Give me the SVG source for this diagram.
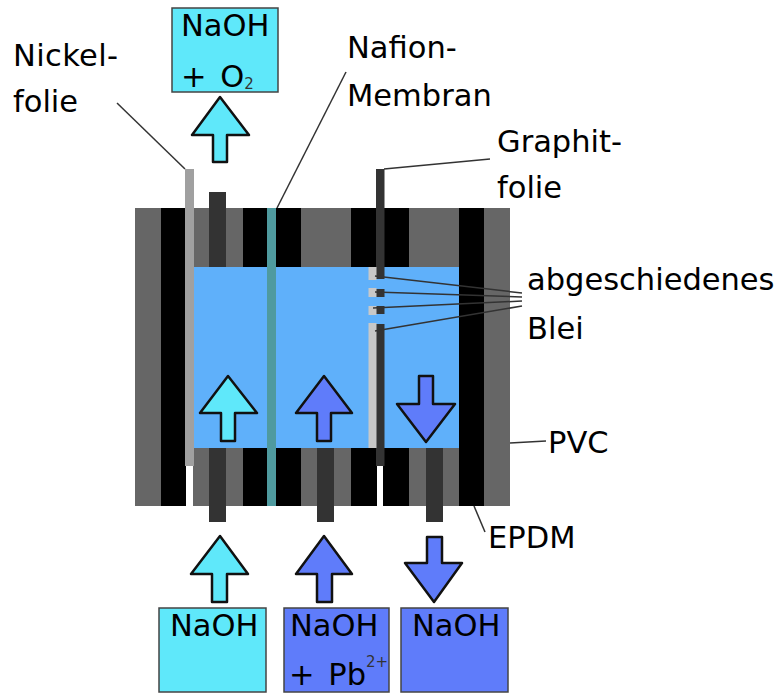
<svg xmlns="http://www.w3.org/2000/svg" width="778" height="693" viewBox="0 0 778 693">
<style>
text{font-family:"DejaVu Sans",Verdana,sans-serif;font-size:30.500px;fill:#000}
.sup{font-size:15px;fill:#333}
.cy{fill:#5fe8fa}
.bl{fill:#5f7cfa}
.ar{stroke:#111;stroke-width:2.5;stroke-linejoin:round}
.box{stroke:#444;stroke-width:1.5}
.g{fill:#666}
.k{fill:#000}
.d{fill:#333}
.ln{stroke:#333;stroke-width:1.5;fill:none}
.ws{word-spacing:4px}
</style>
<rect width="778" height="693" fill="#fff"/>
<g id="cell-body">
<rect class="g" x="135" y="208" width="375" height="298"/>
<rect fill="#5fb0fa" x="193" y="267" width="266" height="181"/>
<rect class="k" x="161" y="208" width="25" height="298"/>
<rect class="k" x="243" y="208" width="58" height="59"/>
<rect class="k" x="351" y="208" width="58" height="59"/>
<rect class="k" x="459" y="208" width="25" height="298"/>
<rect class="k" x="243" y="448" width="58" height="58"/>
<rect class="k" x="351" y="448" width="58" height="58"/>
<rect fill="#fff" x="186" y="466" width="7" height="40"/>
<rect fill="#fff" x="377" y="466" width="6" height="40"/>
<rect class="d" x="209" y="192" width="17" height="75"/>
<rect class="d" x="209" y="448" width="17" height="74"/>
<rect class="d" x="317" y="448" width="17" height="74"/>
<rect class="d" x="426" y="448" width="17" height="74"/>
</g>
<g id="nickel-foil"><rect fill="#a0a0a0" x="185" y="169" width="9" height="297"/></g>
<g id="nafion-membrane"><rect fill="#4f9a9f" x="267" y="208" width="9" height="298"/></g>
<g id="graphite-foil">
<rect class="d" x="376" y="169" width="8.500" height="110"/>
<rect class="d" x="376" y="289" width="8.500" height="8"/>
<rect class="d" x="376" y="306" width="8.500" height="8"/>
<rect class="d" x="376" y="324" width="8.500" height="142"/>
</g>
<g id="lead-deposit" fill="#c8c8c8">
<rect x="368.500" y="267" width="8" height="13"/>
<rect x="368.500" y="288" width="8" height="9"/>
<rect x="368.500" y="306" width="8" height="9"/>
<rect x="368.500" y="323" width="8" height="125"/>
</g>
<g id="connectors">
<path class="ln" d="M117 103L185 169"/>
<path class="ln" d="M277 208L346 72"/>
<path class="ln" d="M384 169L490 159"/>
<path class="ln" d="M375 276L522 293"/>
<path class="ln" d="M375 292L522 297"/>
<path class="ln" d="M373 308L522 301"/>
<path class="ln" d="M375 331L522 306"/>
<path class="ln" d="M510 443L546 441"/>
<path class="ln" d="M474 506L485 532"/>
</g>
<g id="arrow-out-top"><path class="cy ar" d="M220 97L249 135H227V162H213V135H192Z"/></g>
<g id="arrow-inner-1"><path class="cy ar" d="M228 376L257 413H235V441H221V413H200Z"/></g>
<g id="arrow-inner-2"><path class="bl ar" d="M324 376L352 413H331V441H317V413H296Z"/></g>
<g id="arrow-inner-3"><path class="bl ar" d="M419 376H433V404H455L426 442L397 404H419Z"/></g>
<g id="arrow-in-1"><path class="cy ar" d="M220 536L248 574H227V602H212V574H191Z"/></g>
<g id="arrow-in-2"><path class="bl ar" d="M324 536L352 574H332V602H317V574H296Z"/></g>
<g id="arrow-out-bottom"><path class="bl ar" d="M427 537H442V563H462L434 602L405 563H427Z"/></g>
<g id="box-naoh-o2"><rect class="cy box" x="172" y="8" width="106" height="84"/>
<text x="181" y="36">NaOH</text><text class="ws" x="181" y="87">+ O<tspan class="sup" dy="2">2</tspan></text></g>
<g id="box-naoh-1"><rect class="cy box" x="159" y="608" width="107" height="84"/><text x="170" y="636">NaOH</text></g>
<g id="box-naoh-pb"><rect class="bl box" x="284" y="608" width="105" height="84"/>
<text x="290" y="636">NaOH</text><text class="ws" x="289" y="685">+ Pb<tspan class="sup" dy="-18">2+</tspan></text></g>
<g id="box-naoh-2"><rect class="bl box" x="401" y="608" width="107" height="84"/><text x="412" y="636">NaOH</text></g>
<g id="labels">
<text x="13" y="66" textLength="105">Nickel-</text><text x="13" y="112">folie</text>
<text x="347" y="58">Nafion-</text><text x="347" y="106">Membran</text>
<text x="497" y="152">Graphit-</text><text x="497" y="198">folie</text>
<text x="527" y="290">abgeschiedenes</text><text x="527" y="339">Blei</text>
<text x="548" y="453">PVC</text>
<text x="488" y="548">EPDM</text>
</g>
</svg>
